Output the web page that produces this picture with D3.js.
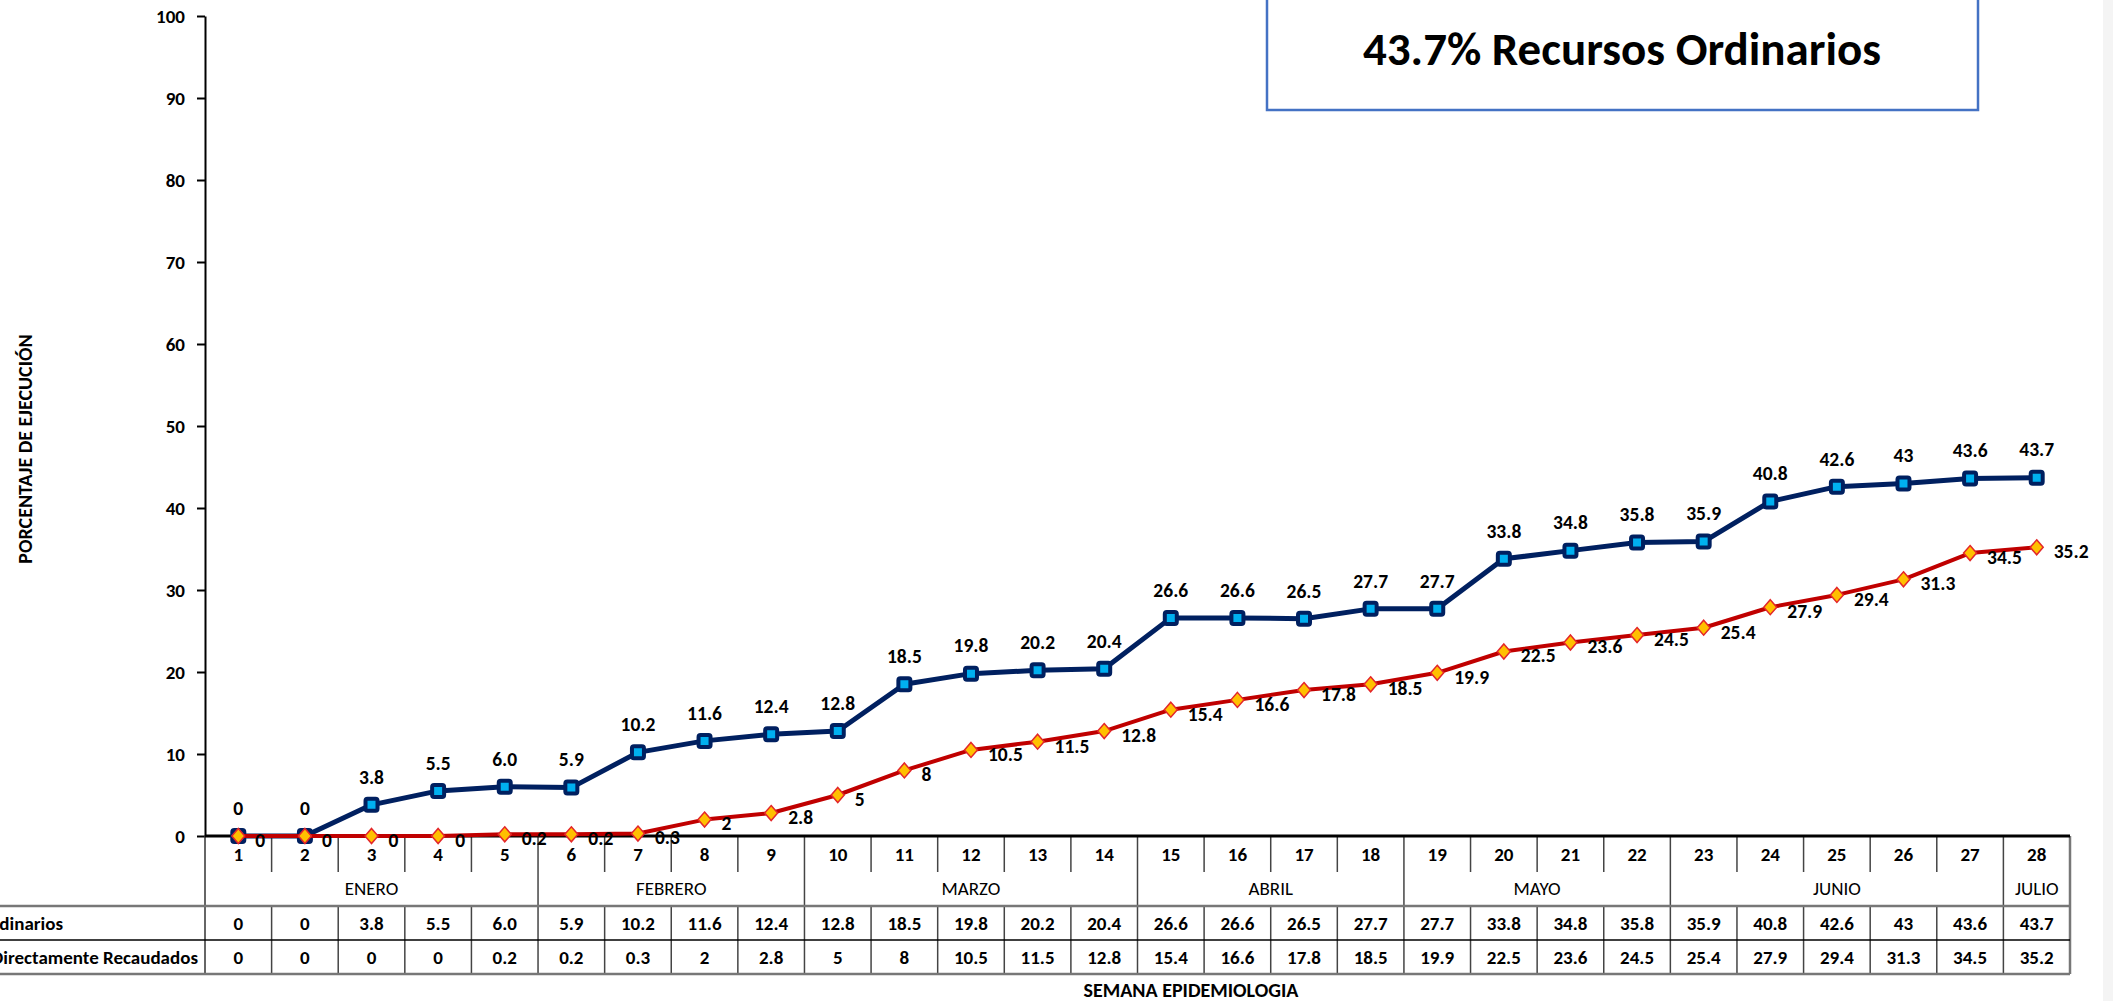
<!DOCTYPE html>
<html>
<head>
<meta charset="utf-8">
<title>Porcentaje de ejecución</title>
<style>
body { margin: 0; background: #fff; overflow: hidden; }
svg text { font-family: Carlito, Calibri, Lato, sans-serif; fill: #000; }
.tick text { font-size: 19px; font-weight: bold; }
.blue-lbl, .red-lbl { font-size: 19.5px; font-weight: bold; }
.cell { font-size: 19px; font-weight: bold; }
.month { font-size: 19px; }
.axis-title { font-size: 20px; font-weight: bold; }
</style>
</head>
<body>
<script src="https://cdnjs.cloudflare.com/ajax/libs/d3/7.8.5/d3.min.js"></script>
<script>

var width = 2113,
    height = 1001;

// semanas epidemiologicas
var weeks = ["1","2","3","4","5","6","7","8","9","10","11","12","13","14",
             "15","16","17","18","19","20","21","22","23","24","25","26","27","28"];

var monthNames = ["ENERO", "FEBRERO", "MARZO", "ABRIL", "MAYO", "JUNIO", "JULIO"];
var monthWeeks = [5, 4, 5, 4, 4, 5, 1];

var recursosOrdinarios = ["0","0","3.8","5.5","6.0","5.9","10.2","11.6","12.4","12.8","18.5","19.8","20.2","20.4",
                          "26.6","26.6","26.5","27.7","27.7","33.8","34.8","35.8","35.9","40.8","42.6","43","43.6","43.7"];

var recursosRecaudados = ["0","0","0","0","0.2","0.2","0.3","2","2.8","5","8","10.5","11.5","12.8",
                          "15.4","16.6","17.8","18.5","19.9","22.5","23.6","24.5","25.4","27.9","29.4","31.3","34.5","35.2"];

var seriesNames = ["Recursos Ordinarios", "Recursos Directamente Recaudados"];
var yTicks = [0, 10, 20, 30, 40, 50, 60, 70, 80, 90, 100];
var titleText = "43.7% Recursos Ordinarios";

// plot edges (window.top is reserved, so no "top" here)
var plotLeft = 205, plotRight = 2070, plotTop = 16, axisY = 836;

var svg = d3.select("body").append("svg")
    .attr("width", width)
    .attr("height", height);

// faint strip at the right edge
svg.append("rect")
    .attr("x", 2103).attr("y", 0)
    .attr("width", 10).attr("height", height)
    .attr("fill", "#f4f4f4");

var x = d3.scaleBand().domain(weeks).range([plotLeft, plotRight]).padding(0);
var y = d3.scaleLinear().domain([0, 100]).range([axisY, plotTop]);
var bw = x.bandwidth();
function cx(w) { return x(w) + bw / 2; }

// y axis
var yAxis = svg.append("g")
    .attr("transform", "translate(" + plotLeft + ",0)")
    .call(d3.axisLeft(y).tickValues(yTicks).tickSize(8).tickSizeOuter(0).tickPadding(12));
yAxis.select(".domain").attr("stroke", "#000").attr("stroke-width", 2);
yAxis.selectAll(".tick line").attr("stroke", "#000").attr("stroke-width", 2);
yAxis.selectAll(".tick text").attr("fill", "#000");

svg.append("text")
    .attr("class", "axis-title")
    .attr("transform", "translate(32,449)rotate(-90)")
    .attr("text-anchor", "middle")
    .text("PORCENTAJE DE EJECUCIÓN");

// ---- table under the chart
var rowWeekBottom = 872, rowMonthBottom = 906, rowMid = 940, rowBottom = 974;
var tbl = svg.append("g");

// month boundaries
var bounds = [], acc = 0;
monthWeeks.forEach(function(n) { bounds.push(acc); acc += n; });

weeks.forEach(function(w, i) {
    if (i === 0) return;
    var isMonth = bounds.indexOf(i) >= 0;
    if (isMonth) {
        tbl.append("line").attr("x1", x(w)).attr("x2", x(w))
            .attr("y1", axisY).attr("y2", rowBottom)
            .attr("stroke", "#444").attr("stroke-width", 1.5);
    } else {
        tbl.append("line").attr("x1", x(w)).attr("x2", x(w))
            .attr("y1", axisY).attr("y2", rowWeekBottom)
            .attr("stroke", "#444").attr("stroke-width", 1.5);
        tbl.append("line").attr("x1", x(w)).attr("x2", x(w))
            .attr("y1", rowMonthBottom).attr("y2", rowBottom)
            .attr("stroke", "#444").attr("stroke-width", 1.5);
    }
});

// outer frame of table
tbl.append("line").attr("x1", plotLeft).attr("x2", plotLeft)
    .attr("y1", axisY).attr("y2", rowBottom).attr("stroke", "#333").attr("stroke-width", 1.5);
tbl.append("line").attr("x1", plotRight).attr("x2", plotRight)
    .attr("y1", axisY).attr("y2", rowBottom).attr("stroke", "#777").attr("stroke-width", 2.5);
tbl.append("line").attr("x1", 0).attr("x2", plotRight)
    .attr("y1", rowMonthBottom).attr("y2", rowMonthBottom).attr("stroke", "#777").attr("stroke-width", 2.5);
tbl.append("line").attr("x1", 0).attr("x2", plotRight)
    .attr("y1", rowMid).attr("y2", rowMid).attr("stroke", "#000").attr("stroke-width", 1.5);
tbl.append("line").attr("x1", 0).attr("x2", plotRight)
    .attr("y1", rowBottom).attr("y2", rowBottom).attr("stroke", "#777").attr("stroke-width", 2.5);

// week numbers
tbl.selectAll(".wk").data(weeks).enter().append("text")
    .attr("class", "cell")
    .attr("x", cx).attr("y", 854).attr("dy", "0.35em")
    .attr("text-anchor", "middle")
    .text(function(d) { return d; });

// month names
tbl.selectAll(".month").data(monthNames).enter().append("text")
    .attr("class", "month")
    .attr("x", function(d, i) {
        var a = x(weeks[bounds[i]]), b = x(weeks[bounds[i] + monthWeeks[i] - 1]) + bw;
        return (a + b) / 2;
    })
    .attr("y", 888).attr("dy", "0.35em")
    .attr("text-anchor", "middle")
    .text(function(d) { return d; });

// value rows
[recursosOrdinarios, recursosRecaudados].forEach(function(vals, r) {
    var cyRow = r === 0 ? 923 : 957;
    tbl.selectAll(".v" + r).data(vals).enter().append("text")
        .attr("class", "cell")
        .attr("x", function(d, i) { return cx(weeks[i]); })
        .attr("y", cyRow).attr("dy", "0.35em")
        .attr("text-anchor", "middle")
        .text(function(d) { return d; });
    tbl.append("text")
        .attr("class", "cell")
        .attr("x", r === 0 ? 63 : 198).attr("y", cyRow).attr("dy", "0.35em")
        .attr("text-anchor", "end")
        .text(seriesNames[r]);
});

svg.append("text")
    .attr("class", "axis-title")
    .attr("x", 1191).attr("y", 990).attr("dy", "0.35em")
    .attr("text-anchor", "middle")
    .text("SEMANA EPIDEMIOLOGIA");

// x axis line (drawn over table top)
svg.append("line")
    .attr("x1", plotLeft).attr("x2", plotRight)
    .attr("y1", axisY).attr("y2", axisY)
    .attr("stroke", "#000").attr("stroke-width", 3);

// ---- series
var line = d3.line()
    .x(function(d, i) { return cx(weeks[i]); })
    .y(function(d) { return y(+d); });

svg.append("path")
    .datum(recursosOrdinarios)
    .attr("d", line)
    .attr("fill", "none")
    .attr("stroke", "#002060")
    .attr("stroke-width", 5)
    .attr("stroke-linejoin", "round");

svg.selectAll(".sq").data(recursosOrdinarios).enter().append("rect")
    .attr("x", function(d, i) { return cx(weeks[i]) - 6; })
    .attr("y", function(d) { return y(+d) - 6; })
    .attr("width", 12).attr("height", 12)
    .attr("rx", 2)
    .attr("fill", "#00B0F0")
    .attr("stroke", "#002060")
    .attr("stroke-width", 4);

svg.append("path")
    .datum(recursosRecaudados)
    .attr("d", line)
    .attr("fill", "none")
    .attr("stroke", "#C00000")
    .attr("stroke-width", 4)
    .attr("stroke-linejoin", "round");

svg.selectAll(".dm").data(recursosRecaudados).enter().append("path")
    .attr("transform", function(d, i) { return "translate(" + cx(weeks[i]) + "," + y(+d) + ")"; })
    .attr("d", "M0,-7.5L6.5,0L0,7.5L-6.5,0Z")
    .attr("fill", "#FFC000")
    .attr("stroke", "#E3262A")
    .attr("stroke-width", 1.5);

// data labels
svg.selectAll(".blue-lbl").data(recursosOrdinarios).enter().append("text")
    .attr("class", "blue-lbl")
    .attr("x", function(d, i) { return cx(weeks[i]); })
    .attr("y", function(d) { return y(+d) - 28; })
    .attr("dy", "0.35em")
    .attr("text-anchor", "middle")
    .text(function(d) { return d; });

svg.selectAll(".red-lbl").data(recursosRecaudados).enter().append("text")
    .attr("class", "red-lbl")
    .attr("x", function(d, i) { return cx(weeks[i]) + 17; })
    .attr("y", function(d) { return y(+d) + 4; })
    .attr("dy", "0.35em")
    .attr("text-anchor", "start")
    .text(function(d) { return d; });

// ---- title box
svg.append("rect")
    .attr("x", 1267).attr("y", -10)
    .attr("width", 711).attr("height", 120)
    .attr("fill", "#fff")
    .attr("stroke", "#4472C4")
    .attr("stroke-width", 2.5);

svg.append("text")
    .attr("x", 1622).attr("y", 65)
    .attr("text-anchor", "middle")
    .style("font-size", "47px")
    .style("font-weight", "bold")
    .text(titleText);

</script>
</body>
</html>
